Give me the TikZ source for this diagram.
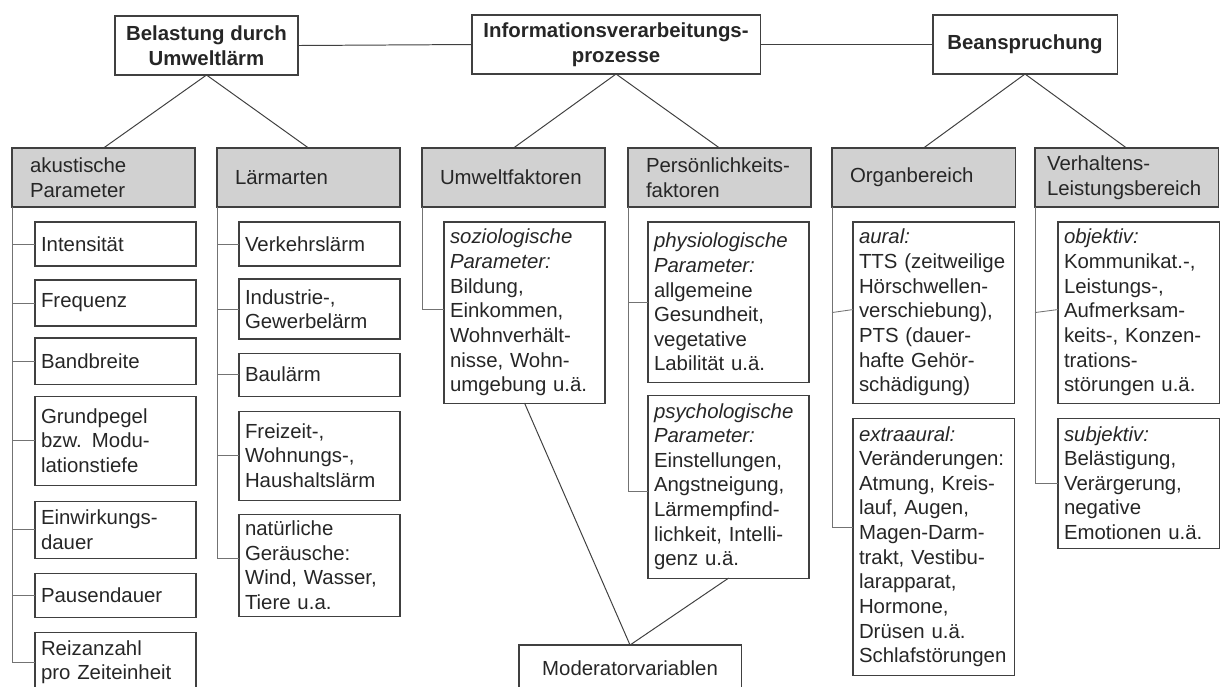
\documentclass[tikz,border=0pt]{standalone}
\usepackage{fontspec}
\setmainfont{Liberation Sans}
\usetikzlibrary{positioning}
\hyphenpenalty=10000

\begin{document}
\begin{tikzpicture}[x=0.025cm, y=-0.025cm,
    every node/.style={text=black!85, font=\fontsize{14.5}{17.5}\selectfont, outer sep=0pt},
    top/.style={draw=black!75, line width=0.8pt, font=\fontsize{14.5}{17.5}\selectfont\bfseries, align=center, minimum height=1.475cm, anchor=north west},
    head/.style={draw=black!75, line width=0.8pt, fill=black!18, text width=3.675cm, inner xsep=0.45cm, minimum height=1.475cm, align=left, anchor=north west},
    leaf/.style={draw=black!75, line width=0.8pt, text width=3.725cm, inner xsep=0.15cm, inner ysep=0.1cm, align=left},
    tie/.style={draw=black!75, line width=0.7pt},
    spine/.style={draw=black!55, line width=0.6pt}]
    \clip (0,0) rectangle (1220,686);

    % obere Ebene
    \node[top, minimum width=4.575cm] (bel) at (115,16) {Belastung durch\\Umweltlärm};
    \node[top, minimum width=7.2cm] (info) at (472,15) {Informationsverarbeitungs-\\prozesse};
    \node[top, minimum width=4.6cm] (bean) at (933,15) {Beanspruchung};

    \draw[tie] (bel.east)--(info.west);
    \draw[tie] (info.east)--(bean.west);

    % Kategorien
    \node[head] (ak) at (12,148) {akustische\\Parameter};
    \node[head] (la) at (217,148) {Lärmarten};
    \node[head] (um) at (422,148) {Umweltfaktoren};
    \node[head] (pe) at (628,148) {Persönlichkeits-\\faktoren};
    \node[head] (or) at (832,148) {Organbereich};
    \node[head, text width=3.975cm, inner xsep=0.3cm] (ve) at (1035,148) {Verhaltens-\\Leistungsbereich};

    \draw[tie] (bel.south)--(ak.north);
    \draw[tie] (bel.south)--(la.north);
    \draw[tie] (info.south)--(um.north);
    \draw[tie] (info.south)--(pe.north);
    \draw[tie] (bean.south)--(or.north);
    \draw[tie] (bean.south)--(ve.north);

    % akustische Parameter
    \node[leaf, minimum height=1.1cm, below=0.375cm of ak.south west, anchor=north west, xshift=0.575cm] (ak1) {Intensität};
    \node[leaf, minimum height=1.15cm, below=0.35cm of ak1.south west, anchor=north west] (ak2) {Frequenz};
    \node[leaf, minimum height=1.15cm, below=0.3cm of ak2.south west, anchor=north west] (ak3) {Bandbreite};
    \node[leaf, minimum height=2.225cm, below=0.3cm of ak3.south west, anchor=north west] (ak4) {Grundpegel\\bzw. Modu-\\lationstiefe};
    \node[leaf, minimum height=1.425cm, below=0.4cm of ak4.south west, anchor=north west] (ak5) {Einwirkungs-\\dauer};
    \node[leaf, minimum height=1.1cm, below=0.375cm of ak5.south west, anchor=north west] (ak6) {Pausendauer};
    \node[leaf, minimum height=1.5cm, below=0.375cm of ak6.south west, anchor=north west] (ak7) {Reizanzahl\\pro Zeiteinheit};

    \foreach \n in {1,...,6}
        \draw[spine] (ak.south west |- ak\n.west)--(ak\n.west);
    \draw[spine] (ak.south west) |- (ak7.west);

    % Laermarten
    \node[leaf, minimum height=1.1cm, below=0.375cm of la.south west, anchor=north west, xshift=0.55cm] (la1) {Verkehrslärm};
    \node[leaf, minimum height=1.5cm, below=0.325cm of la1.south west, anchor=north west] (la2) {Industrie-,\\Gewerbelärm};
    \node[leaf, minimum height=1.075cm, below=0.35cm of la2.south west, anchor=north west] (la3) {Baulärm};
    \node[leaf, minimum height=2.225cm, below=0.375cm of la3.south west, anchor=north west] (la4) {Freizeit-,\\Wohnungs-,\\Haushaltslärm};
    \node[leaf, minimum height=2.55cm, below=0.35cm of la4.south west, anchor=north west] (la5) {natürliche\\Geräusche:\\Wind, Wasser,\\Tiere u.a.};

    \foreach \n in {1,...,4}
        \draw[spine] (la.south west |- la\n.west)--(la\n.west);
    \draw[spine] (la.south west) |- ([yshift=0.175cm]la5.west);

    % Umweltfaktoren
    \node[leaf, minimum height=4.525cm, below=0.375cm of um.south west, anchor=north west, xshift=0.55cm] (um1) {\textit{soziologische}\\\textit{Parameter:}\\Bildung,\\Einkommen,\\Wohnverhält-\\nisse, Wohn-\\umgebung u.ä.};
    \draw[spine] (um.south west) |- ([yshift=0.075cm]um1.west);

    % Persoenlichkeitsfaktoren
    \node[leaf, minimum height=4cm, below=0.375cm of pe.south west, anchor=north west, xshift=0.5cm] (pe1) {\textit{physiologische}\\\textit{Parameter:}\\allgemeine\\Gesundheit,\\vegetative\\Labilität u.ä.};
    \node[leaf, minimum height=4.575cm, below=0.325cm of pe1.south west, anchor=north west] (pe2) {\textit{psychologische}\\\textit{Parameter:}\\Einstellungen,\\Angstneigung,\\Lärmempfind-\\lichkeit, Intelli-\\genz u.ä.};
    \draw[spine] (pe.south west |- pe1.west)--(pe1.west);
    \draw[spine] (pe.south west) |- ([yshift=-0.125cm]pe2.west);

    % Moderatorvariablen
    \node[draw=black!75, line width=0.8pt, minimum width=5.55cm, minimum height=1.15cm, anchor=north west] (mod) at (519,645) {Moderatorvariablen};
    \draw[tie] (um1.south)--(mod.north);
    \draw[tie] (pe2.south)--(mod.north);

    % Organbereich
    \node[leaf, minimum height=4.525cm, below=0.375cm of or.south west, anchor=north west, xshift=0.525cm] (or1) {\textit{aural:}\\TTS (zeitweilige\\Hörschwellen-\\verschiebung),\\PTS (dauer-\\hafte Gehör-\\schädigung)};
    \node[leaf, minimum height=6.425cm, below=0.375cm of or1.south west, anchor=north west] (or2) {\textit{extraaural:}\\Veränderungen:\\Atmung, Kreis-\\lauf, Augen,\\Magen-Darm-\\trakt, Vestibu-\\larapparat,\\Hormone,\\Drüsen u.ä.\\Schlafstörungen};
    \draw[spine] (or.south west |- or1.west)--([yshift=0.075cm]or1.west);
    \draw[spine] (or.south west) |- ([yshift=0.49cm]or2.west);

    % Verhaltens-/Leistungsbereich
    \node[leaf, minimum height=4.525cm, below=0.375cm of ve.south west, anchor=north west, xshift=0.575cm] (ve1) {\textit{objektiv:}\\Kommunikat.-,\\Leistungs-,\\Aufmerksam-\\keits-, Konzen-\\trations-\\störungen u.ä.};
    \node[leaf, minimum height=3.25cm, below=0.375cm of ve1.south west, anchor=north west] (ve2) {\textit{subjektiv:}\\Belästigung,\\Verärgerung,\\negative\\Emotionen u.ä.};
    \draw[spine] (ve.south west |- ve1.west)--([yshift=0.075cm]ve1.west);
    \draw[spine] (ve.south west) |- (ve2.west);
\end{tikzpicture}
\end{document}
